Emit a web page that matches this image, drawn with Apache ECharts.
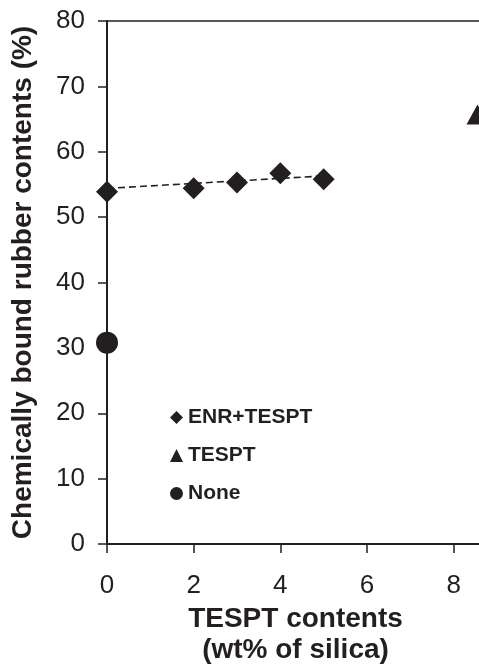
<!DOCTYPE html>
<html>
<head>
<meta charset="utf-8">
<script src="https://cdn.jsdelivr.net/npm/echarts@6/dist/echarts.min.js"></script>
<style>
  html, body { margin: 0; padding: 0; background: #fff; }
  #chart { width: 479px; height: 666px; }
</style>
</head>
<body>
<div id="chart"></div>
<script>
'use strict';

// ENR+TESPT samples
var enrX = [0, 2, 3, 4, 5];
var enrY = [53.9, 54.4, 55.3, 56.7, 55.8];
// dashed trend line drawn through the ENR+TESPT points
var trendX = [0, 5];
var trendY = [54.4, 56.3];
// TESPT only
var tesptX = [8.55];
var tesptY = [65.7];
// no coupling agent
var noneX = [0];
var noneY = [30.8];

var legendNames = ['ENR+TESPT', 'TESPT', 'None'];

function pairs(xs, ys) {
    var out = [];
    for (var i = 0; i < xs.length; i++) {
        out.push([xs[i], ys[i]]);
    }
    return out;
}

var ink = '#231f20';
var font = '"Liberation Sans", Arial, sans-serif';

var chart = echarts.init(document.getElementById('chart'));

var options = {
    animation: false,
    color: [ink, ink, ink],
    grid: {
        left: 107,
        top: 21,
        bottom: 122,
        right: -5,
        show: true,
        borderColor: ink,
        borderWidth: 1.5,
        containLabel: false,
        outerBoundsMode: 'none'
    },
    legend: {
        data: legendNames,
        orient: 'vertical',
        left: 165,
        top: 402,
        itemWidth: 13,
        itemHeight: 13,
        itemGap: 17,
        textStyle: {
            fontFamily: font,
            fontWeight: 'bold',
            fontSize: 21,
            color: ink
        }
    },
    xAxis: {
        type: 'value',
        min: 0,
        max: 8.7,
        interval: 2,
        name: 'TESPT contents\n(wt% of silica)',
        nameLocation: 'middle',
        nameGap: 56,
        nameTextStyle: {
            fontFamily: font,
            fontWeight: 'bold',
            fontSize: 28,
            lineHeight: 31,
            color: ink
        },
        splitLine: { show: false },
        axisLine: { lineStyle: { color: ink, width: 2 } },
        axisTick: { inside: false, length: 9, lineStyle: { color: ink, width: 1.5 } },
        axisLabel: {
            showMaxLabel: false,
            margin: 29,
            fontFamily: font,
            fontSize: 26,
            color: ink
        }
    },
    yAxis: {
        type: 'value',
        min: 0,
        max: 80,
        interval: 10,
        name: 'Chemically bound rubber contents (%)',
        nameLocation: 'middle',
        nameGap: 70,
        nameRotate: 90,
        nameTextStyle: {
            fontFamily: font,
            fontWeight: 'bold',
            fontSize: 28,
            color: ink
        },
        splitLine: { show: false },
        axisLine: { lineStyle: { color: ink, width: 2 } },
        axisTick: { inside: false, length: 9, lineStyle: { color: ink, width: 1.5 } },
        axisLabel: {
            margin: 22,
            fontFamily: font,
            fontSize: 26,
            color: ink
        }
    },
    series: [
        {
            name: 'trend',
            type: 'line',
            data: pairs(trendX, trendY),
            symbol: 'none',
            z: 1,
            lineStyle: { color: ink, width: 1.6, type: [7, 4] }
        },
        {
            name: 'ENR+TESPT',
            type: 'scatter',
            data: pairs(enrX, enrY),
            symbol: 'diamond',
            symbolSize: 22,
            itemStyle: { color: ink, opacity: 1 }
        },
        {
            name: 'TESPT',
            type: 'scatter',
            data: pairs(tesptX, tesptY),
            symbol: 'triangle',
            symbolSize: [22, 20],
            clip: false,
            itemStyle: { color: ink, opacity: 1 }
        },
        {
            name: 'None',
            type: 'scatter',
            data: pairs(noneX, noneY),
            symbol: 'circle',
            symbolSize: 22,
            itemStyle: { color: ink, opacity: 1 }
        }
    ]
};

chart.setOption(options);
window.onresize = function() {
    chart.resize();
};
</script>
</body>
</html>
